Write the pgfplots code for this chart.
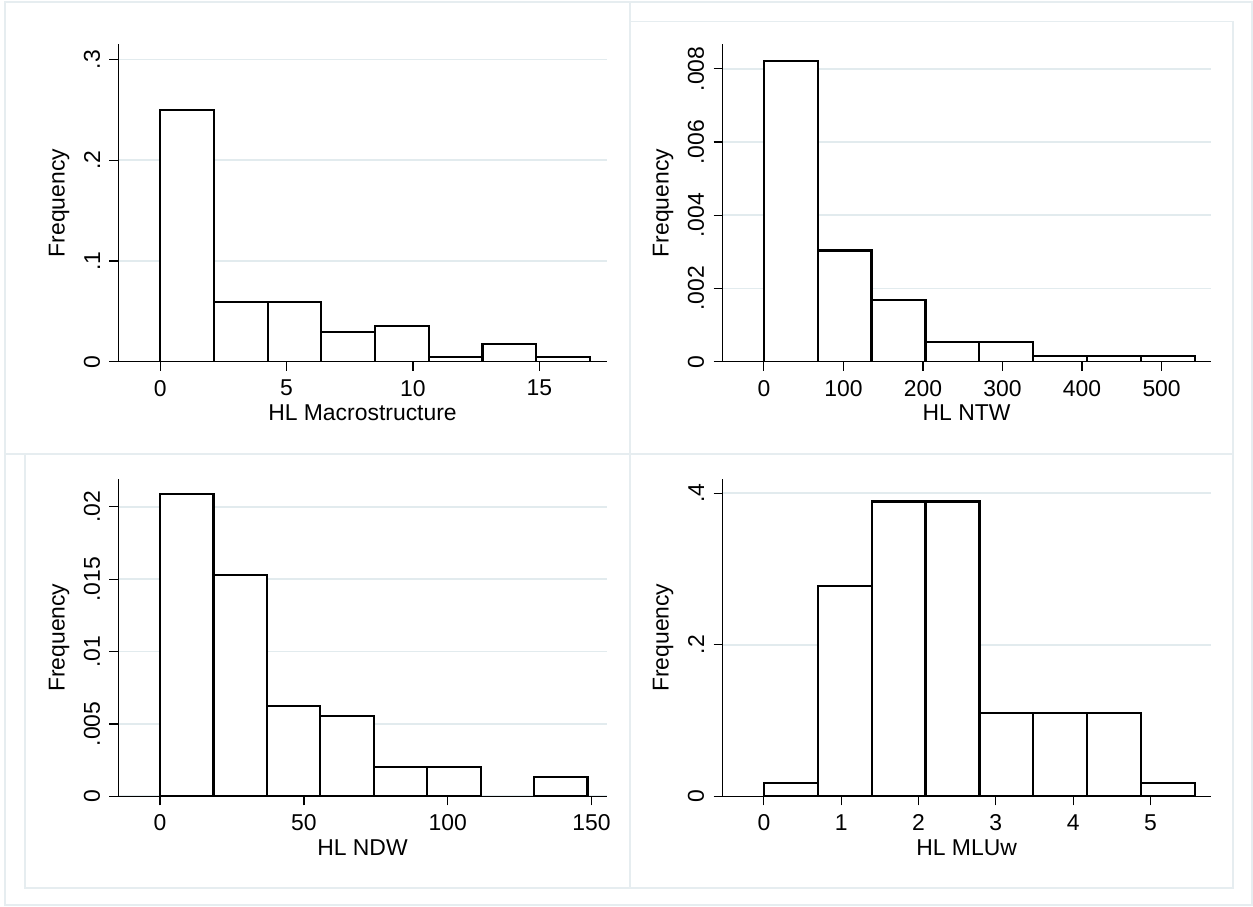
\documentclass[border=0pt]{standalone}
\usepackage{fontspec}
\setmainfont{Liberation Sans}
\usepackage{pgfplots}
\pgfplotsset{compat=1.18}

\definecolor{gridc}{RGB}{226,235,238}
\definecolor{framec}{RGB}{230,237,240}

\pgfplotsset{
  statahist/.style={
    scale only axis, width=244bp, height=158.6bp,
    anchor=south west,
    axis x line=bottom, axis y line=left,
    axis line style={-, line width=0.6bp, black},
    tick align=outside, major tick length=4.5bp,
    tick style={black, line width=0.6bp},
    ymin=0, scaled y ticks=false,
    /pgf/number format/assume math mode=true,
    ymajorgrids, grid style={gridc, line width=0.8bp},
    every tick label/.append style={font=\fontsize{11.5}{13}\selectfont},
    yticklabel style={rotate=90, anchor=south, inner sep=0pt},
    xticklabel style={anchor=north, inner sep=0pt},
    yticklabel shift=4.5bp, xticklabel shift=4.5bp,
    ylabel={Frequency},
    every axis y label/.style={at={(axis description cs:0,0.5)}, rotate=90,
      anchor=center, yshift=29.75bp, font=\fontsize{11.5}{13}\selectfont},
    every axis x label/.style={at={(axis description cs:0.5,0)},
      anchor=base, yshift=-29.6bp, font=\fontsize{11.5}{13}\selectfont},
  },
  histbar/.style={ybar interval, fill=white, draw=black, line width=1.1bp},
}

\begin{document}
\begin{tikzpicture}
% page size and faint panel frames
\path (0,0) rectangle (626.5bp,453.5bp);
\draw[framec, line width=0.8bp] (2.5bp,1bp) rectangle (626bp,452.5bp);
\draw[framec, line width=0.8bp] (2.5bp,226.5bp) rectangle (315bp,452.5bp);
\draw[framec, line width=0.8bp] (315bp,226.5bp) rectangle (616.5bp,442.65bp);
\draw[framec, line width=0.8bp] (12.5bp,9.5bp) rectangle (315bp,226.5bp);
\draw[framec, line width=0.8bp] (315bp,9.5bp) rectangle (616.5bp,226.5bp);

% HL Macrostructure
\begin{axis}[statahist, at={(59.25bp,272.65bp)},
  xmin=-1.65, xmax=17.66, ymax=0.3149,
  xtick={0,5,10,15},
  ytick={0,0.1,0.2,0.3}, yticklabels={0,.1,.2,.3},
  xlabel={HL Macrostructure}]
\addplot[histbar] coordinates {
  (0,0.2497) (2.125,0.0595) (4.25,0.0595) (6.375,0.0291) (8.5,0.0354)
  (10.625,0.0046) (12.75,0.0172) (14.875,0.0046) (17,0)};
\end{axis}

% HL NTW
\begin{axis}[statahist, at={(361.3bp,272.65bp)},
  xmin=-51.9, xmax=561.6, ymax=0.008666,
  xtick={0,100,200,300,400,500},
  ytick={0,0.002,0.004,0.006,0.008}, yticklabels={0,.002,.004,.006,.008},
  xlabel={HL NTW}]
\addplot[histbar] coordinates {
  (0,0.00822) (67.7,0.00304) (135.4,0.00168) (203.2,0.000528) (270.9,0.000528)
  (338.6,0.000155) (406.3,0.000155) (474.1,0.000155) (541.8,0)};
\end{axis}

% HL NDW
\begin{axis}[statahist, at={(59.25bp,55.35bp)},
  xmin=-14.46, xmax=155.2, ymax=0.02191,
  xtick={0,50,100,150},
  ytick={0,0.005,0.01,0.015,0.02}, yticklabels={0,.005,.01,.015,.02},
  xlabel={HL NDW}]
\addplot[histbar] coordinates {
  (0,0.0209) (18.57,0.0153) (37.15,0.00622) (55.72,0.00553) (74.3,0.00203)
  (92.87,0.00203) (111.45,0)};
\addplot[histbar] coordinates {(130.0,0.00134) (148.6,0)};
\end{axis}

% HL MLUw
\begin{axis}[statahist, at={(361.3bp,55.35bp)},
  xmin=-0.534, xmax=5.778, ymax=0.4185,
  xtick={0,1,2,3,4,5},
  ytick={0,0.2,0.4}, yticklabels={0,.2,.4},
  xlabel={HL MLUw}]
\addplot[histbar] coordinates {
  (0,0.0176) (0.697,0.2777) (1.394,0.389) (2.091,0.389) (2.788,0.1096)
  (3.485,0.1096) (4.182,0.1096) (4.879,0.0176) (5.576,0)};
\end{axis}
\end{tikzpicture}
\end{document}
